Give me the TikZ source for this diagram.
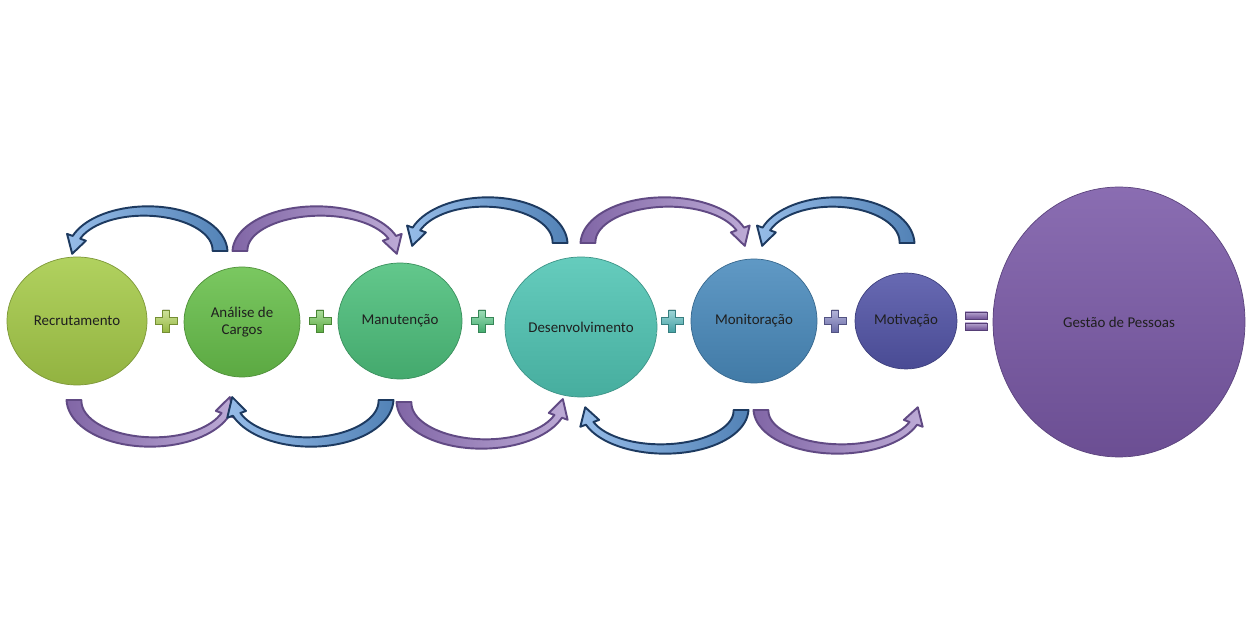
\documentclass[tikz,border=0pt]{standalone}
\usepackage{fontspec}
\setmainfont{Carlito}
\usetikzlibrary{shapes.geometric}

\definecolor{cRec}{HTML}{A6CB49}
\definecolor{cAna}{HTML}{68C04B}
\definecolor{cMan}{HTML}{4DC07C}
\definecolor{cDes}{HTML}{50C5B4}
\definecolor{cMon}{HTML}{4A8BBD}
\definecolor{cMot}{HTML}{5355A8}
\definecolor{cGes}{HTML}{7A59A7}
\definecolor{abL}{HTML}{96BCE8}
\definecolor{abD}{HTML}{5282B6}
\definecolor{abO}{HTML}{1D3A60}
\definecolor{apL}{HTML}{BDABD6}
\definecolor{apD}{HTML}{8166A6}
\definecolor{apO}{HTML}{614A84}

% curved block arrow: cx cy rx ry tailangle bandendangle tipangle sign(1 top,-1 bottom) style
\newcommand\carrow[9]{%
  \def\bw{(8+7*(1-(\x-(#5))/((#6)-(#5)))^2)}%
  \filldraw[#9]
    plot[domain=#5:#6,samples=40] ({#1+(#3+\bw/2)*cos(\x)},{#2-(#8)*(#4+\bw/2)*sin(\x)})
    -- ({#1+(#3+10)*cos(#6)},{#2-(#8)*(#4+10)*sin(#6)})
    -- ({#1+(#3)*cos(#7)},{#2-(#8)*(#4)*sin(#7)})
    -- ({#1+(#3-10)*cos(#6)},{#2-(#8)*(#4-10)*sin(#6)})
    -- plot[domain=#6:#5,samples=40] ({#1+(#3-\bw/2)*cos(\x)},{#2-(#8)*(#4-\bw/2)*sin(\x)})
    -- cycle;}

\newcommand\plussign[3]{%
  \filldraw[top color=#3!55!white, bottom color=#3!90!black, draw=#3!70!black, line width=0.3pt]
   ({#1-3.5},{#2-11}) -- ({#1+3.5},{#2-11}) -- ({#1+3.5},{#2-3.5}) -- ({#1+11},{#2-3.5})
   -- ({#1+11},{#2+3.5}) -- ({#1+3.5},{#2+3.5}) -- ({#1+3.5},{#2+11}) -- ({#1-3.5},{#2+11})
   -- ({#1-3.5},{#2+3.5}) -- ({#1-11},{#2+3.5}) -- ({#1-11},{#2-3.5}) -- ({#1-3.5},{#2-3.5}) -- cycle;}

\begin{document}
\begin{tikzpicture}[x=0.02cm,y=-0.02cm,
  ball/.style={ellipse, inner sep=0pt, top color=#1!88!white, bottom color=#1!88!black,
    draw=#1!75!black, line width=0.4pt, text=black!88, align=center,
    font=\fontsize{8.5}{9.8}\selectfont},
  bluearr/.style={left color=abL, right color=abD, draw=abO, line width=1.1pt, line join=round},
  purparr/.style={left color=apD, right color=apL, draw=apO, line width=1.1pt, line join=round}]
\useasboundingbox[fill=white] (0,0) rectangle (1251,644);

% circles
\node[ball=cRec, minimum width=2.8cm, minimum height=2.56cm] (rec) at (77,321) {Recrutamento};
\node[ball=cAna, minimum width=2.32cm, minimum height=2.2cm] (ana) at (242,322) {Análise de\\Cargos};
\node[ball=cMan, minimum width=2.48cm, minimum height=2.32cm] (man) at (400,321) {Manutenção};
\node[ball=cDes, minimum width=3.04cm, minimum height=2.8cm] (des) at (581,327) {Desenvolvimento};
\node[ball=cMon, minimum width=2.52cm, minimum height=2.48cm] (mon) at (754,321) {Monitoração};
\node[ball=cMot, minimum width=2.04cm, minimum height=1.92cm] (mot) at (906,321) {Motivação};
\node[ball=cGes, minimum width=5.04cm, minimum height=5.4cm] (ges) at (1119,322) {Gestão de Pessoas};

% operators
\plussign{166}{321}{cRec}
\plussign{320}{321}{cAna}
\plussign{482}{321}{cMan}
\plussign{672}{321}{cDes!70!cMon}
\plussign{835}{321}{cMot!80!white}
\filldraw[top color=cGes!55!white, bottom color=cGes!90!black, draw=cGes!70!black, line width=0.3pt]
  (965,312) rectangle (987,319);
\filldraw[top color=cGes!55!white, bottom color=cGes!90!black, draw=cGes!70!black, line width=0.3pt]
  (965,323) rectangle (987,330);

% top arrows
\carrow{146}{251}{74}{40}{0}{160}{184}{1}{bluearr}
\carrow{318.5}{251}{78.5}{40}{180}{20}{-4}{1}{purparr}
\carrow{486}{243}{74}{41}{0}{160}{184}{1}{bluearr}
\carrow{666.5}{243}{78.5}{41}{180}{20}{-4}{1}{purparr}
\carrow{834.5}{243}{72.5}{41}{0}{160}{184}{1}{bluearr}

% bottom arrows
\carrow{152}{400}{78}{42}{180}{20}{-4}{-1}{purparr}
\carrow{309}{400}{77}{42}{0}{160}{184}{-1}{bluearr}
\carrow{483.5}{402}{79.5}{42}{180}{20}{-4}{-1}{purparr}
\carrow{663}{410}{78}{39}{0}{160}{184}{-1}{bluearr}
\carrow{839.5}{410}{78.5}{39}{180}{20}{-4}{-1}{purparr}
\end{tikzpicture}
\end{document}
